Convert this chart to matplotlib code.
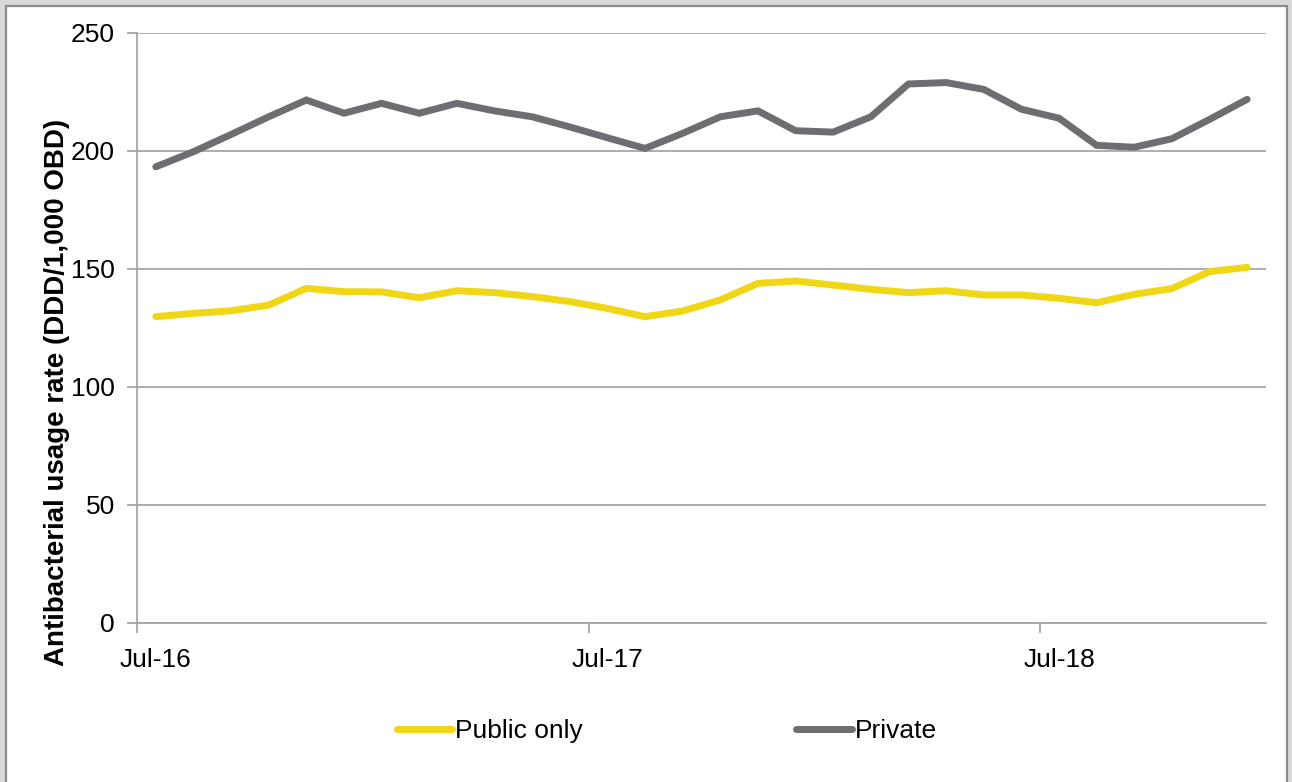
import matplotlib
matplotlib.use("Agg")
import matplotlib.pyplot as plt
from matplotlib.patches import Rectangle

plt.rcParams["font.family"] = ["Liberation Sans", "DejaVu Sans"]

# monthly series, Jul-16 .. Dec-18
months = ["Jul-16", "Aug-16", "Sep-16", "Oct-16", "Nov-16", "Dec-16",
          "Jan-17", "Feb-17", "Mar-17", "Apr-17", "May-17", "Jun-17",
          "Jul-17", "Aug-17", "Sep-17", "Oct-17", "Nov-17", "Dec-17",
          "Jan-18", "Feb-18", "Mar-18", "Apr-18", "May-18", "Jun-18",
          "Jul-18", "Aug-18", "Sep-18", "Oct-18", "Nov-18", "Dec-18"]
public_only = [129.8, 131.2, 132.3, 134.7, 141.8, 140.4, 140.3, 137.8, 140.8, 140.0,
               138.3, 136.2, 133.3, 129.8, 132.2, 136.9, 143.9, 144.9, 143.2, 141.4,
               140.0, 140.8, 139.0, 139.0, 137.6, 135.7, 139.3, 141.7, 148.9, 150.7]
private = [193.3, 199.7, 207.0, 214.5, 221.6, 216.0, 220.2, 216.0, 220.2, 217.0,
           214.5, 210.2, 205.6, 201.1, 207.5, 214.5, 217.0, 208.6, 208.0, 214.5,
           228.4, 229.0, 226.1, 217.7, 213.9, 202.4, 201.6, 205.2, 213.4, 221.9]
label_months = ["Jul-16", "Jul-17", "Jul-18"]
yticks = [0, 50, 100, 150, 200, 250]

YELLOW = "#F0D614"
GREY = "#6D6E71"
GRID = "#A0A0A0"
FS = 19

fig = plt.figure(figsize=(12.92, 7.82), dpi=100)

# outer chart frame
fig.patches.append(Rectangle((0, 0), 1, 1, transform=fig.transFigure,
                             facecolor="#D9D9D9", edgecolor="none", zorder=-3))
fig.patches.append(Rectangle((6 / 1292, -0.01), 1281 / 1292, 1 - 6 / 782 + 0.01,
                             transform=fig.transFigure, facecolor="white",
                             edgecolor="#8C8C8C", linewidth=1.6, zorder=-2))

ax = fig.add_axes([137 / 1292, 1 - 623 / 782, (1266 - 137) / 1292, 590 / 782])
ax.set_facecolor("none")

x = list(range(len(months)))
ax.plot(x, public_only, color=YELLOW, lw=5, solid_capstyle="round",
        solid_joinstyle="miter", label="Public only", zorder=3)
ax.plot(x, private, color=GREY, lw=5, solid_capstyle="round",
        solid_joinstyle="miter", label="Private", zorder=3)

ax.set_xlim(-0.5, len(months) - 0.5)
ax.set_ylim(0, 250)
ax.set_yticks(yticks)
ax.yaxis.grid(True, color=GRID, lw=1.2)
ax.set_axisbelow(True)

# tick marks sit between categories, labels centred on the month
pos = [months.index(m) for m in label_months]
ax.set_xticks([p - 0.5 for p in pos])
ax.set_xticklabels([])
ax.set_xticks(pos, minor=True)
ax.set_xticklabels(label_months, minor=True)
ax.tick_params(axis="x", which="major", length=7, width=1.2, color=GRID)
ax.tick_params(axis="x", which="minor", length=0, pad=18, labelsize=FS)
ax.tick_params(axis="y", length=7, width=1.2, color=GRID, labelsize=FS, pad=9)

for s in ["top", "right"]:
    ax.spines[s].set_visible(False)
for s in ["left", "bottom"]:
    ax.spines[s].set_color(GRID)
    ax.spines[s].set_linewidth(1.2)

ax.set_ylabel("Antibacterial usage rate (DDD/1,000 OBD)", fontsize=20,
              fontweight="bold")
ax.yaxis.set_label_coords(-0.059, 0.39)

fig.legend(loc="center", bbox_to_anchor=(0.516, 1 - 731 / 782), ncol=2,
           frameon=False, fontsize=FS, handlelength=2.1, handletextpad=0.1,
           columnspacing=8.1)

fig.savefig("out.png", dpi=100)
